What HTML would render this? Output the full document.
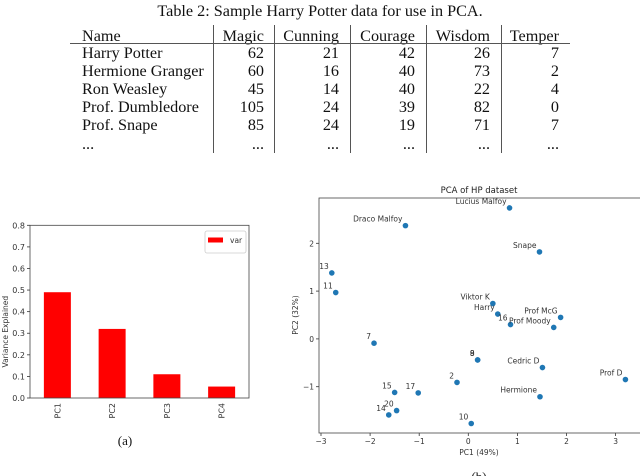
<!DOCTYPE html>
<html><head><meta charset="utf-8"><style>
body{margin:0;background:#fff;width:640px;height:476px;overflow:hidden;position:relative;font-family:"Liberation Serif",serif}
.t{position:absolute;font-size:16.2px;color:#111;line-height:18px;white-space:nowrap}
.r{text-align:right}
svg text{font-family:"DejaVu Sans","Liberation Sans",sans-serif}
</style></head><body>
<div class="t" style="left:0;width:640px;text-align:center;top:2px">Table 2: Sample Harry Potter data for use in PCA.</div>
<div id="tbl"></div>
<svg id="bar" width="640" height="476" style="position:absolute;left:0;top:0"></svg>
<script>
const rowsNames=["Name","Harry Potter","Hermione Granger","Ron Weasley","Prof. Dumbledore","Prof. Snape","..."];
const colHeads=["Magic","Cunning","Courage","Wisdom","Temper"];
const tableVals=[[62,21,42,26,7],[60,16,40,73,2],[45,14,40,22,4],[105,24,39,82,0],[85,24,19,71,7],["...","...","...","...","..."]];
const barCats=["PC1","PC2","PC3","PC4"];
const barVals=[0.49,0.32,0.11,0.053];
const barTicks=[0,0.1,0.2,0.3,0.4,0.5,0.6,0.7,0.8];
const ptLabels=["Lucius Malfoy","Draco Malfoy","Snape","13","11","Viktor K","Harry","16","Prof McG","Prof Moody","7","9","8","Cedric D","Prof D","2","15","17","Hermione","20","14","10"];
const ptX=[0.84,-1.28,1.45,-2.78,-2.70,0.50,0.60,0.86,1.88,1.74,-1.92,0.19,0.19,1.51,3.20,-0.23,-1.50,-1.02,1.46,-1.46,-1.62,0.06];
const ptY=[2.74,2.37,1.82,1.38,0.97,0.74,0.52,0.30,0.45,0.24,-0.09,-0.44,-0.44,-0.60,-0.85,-0.91,-1.12,-1.13,-1.21,-1.50,-1.59,-1.77];
const xTicks=[-3,-2,-1,0,1,2,3];
const yTicks=[-1,0,1,2];

const tbl=document.getElementById('tbl');
const colRight=[264,339,415,490,559];
const rowTop=[27,44,62,80,98,116,135];
function div(cls,style,txt){const d=document.createElement('div');d.className=cls;d.setAttribute('style',style);d.textContent=txt;tbl.appendChild(d);return d;}
rowsNames.forEach((n,i)=>{
  const d=div('t','left:82px;top:'+rowTop[i]+'px',n);
  
  
  for(let c=0;c<5;c++){
    const v=i===0?colHeads[c]:tableVals[i-1][c];
    const e=div('t r','left:'+(colRight[c]-90)+'px;width:90px;top:'+rowTop[i]+'px',v);
    
    
  }
});
const hr=div('','position:absolute;left:70px;width:500px;top:43px;height:1px;background:#555','');


[213,274,350,426,501].forEach(x=>{
  const v=div('','position:absolute;left:'+x+'px;width:1px;top:25px;height:128px;background:#555','');
  
  
});

const NS="http://www.w3.org/2000/svg";
const svg=document.getElementById('bar');
function el(tag,attrs,txt){const e=document.createElementNS(NS,tag);for(const k in attrs)e.setAttribute(k,attrs[k]);if(txt!==undefined)e.textContent=txt;svg.appendChild(e);return e;}

const bL=30,bR=249,bT=225.3,bB=398;
const by=v=>bB-(v/0.8)*(bB-bT);
const bx=i=>bL+(bR-bL)*(i+0.5)/barCats.length;
barVals.forEach((v,i)=>{
  const r=el('rect',{x:bx(i)-13.5,y:by(v),width:27,height:bB-by(v),fill:'#ff0000'});
  
  
  const t=el('text',{x:0,y:0,'font-size':8,fill:'#333','text-anchor':'end',transform:'translate('+(bx(i)+3)+','+(bB+5)+') rotate(-90)'},barCats[i]);
  
  
});
barTicks.forEach(v=>{
  el('line',{x1:bL-3,x2:bL,y1:by(v),y2:by(v),stroke:'#333','stroke-width':0.8});
  const t=el('text',{x:bL-5,y:by(v)+3,'font-size':8,fill:'#333','text-anchor':'end'},v.toFixed(1));
  
  
});
const bf=el('rect',{x:bL,y:bT,width:bR-bL,height:bB-bT,fill:'none',stroke:'#444','stroke-width':0.8});


const yl=el('text',{x:0,y:0,'font-size':7.5,fill:'#333','text-anchor':'middle',transform:'translate(8,'+((bT+bB)/2+20)+') rotate(-90)'},'Variance Explained');


const lg=el('rect',{x:205,y:231,width:41,height:22,fill:'#fff',stroke:'#ccc','stroke-width':0.8,rx:2});


el('rect',{x:208,y:237.5,width:15,height:5,fill:'#ff0000'});
const lt=el('text',{x:230,y:243,'font-size':7.5,fill:'#333'},'var');


const ca=el('text',{x:125,y:445,'font-size':13,fill:'#111','text-anchor':'middle','style':'font-family:Liberation Serif,serif'},'(a)');



const sL=319,sR=640,sT=198,sB=433;
const sx=v=>321+(v+3)*49.1;
const sy=v=>338.9-v*47.8;
xTicks.forEach(v=>{
  el('line',{x1:sx(v),x2:sx(v),y1:sB,y2:sB+3,stroke:'#333','stroke-width':0.8});
  const t=el('text',{x:sx(v),y:sB+11,'font-size':7.5,fill:'#333','text-anchor':'middle'},v<0?'\u2212'+(-v):v);
  
  
});
yTicks.forEach(v=>{
  el('line',{x1:sL-3,x2:sL,y1:sy(v),y2:sy(v),stroke:'#333','stroke-width':0.8});
  const t=el('text',{x:sL-5,y:sy(v)+3,'font-size':7.5,fill:'#333','text-anchor':'end'},v<0?'\u2212'+(-v):v);
  
  
});
const sf=el('rect',{x:sL,y:sT,width:sR-sL+2,height:sB-sT,fill:'none',stroke:'#444','stroke-width':0.8});


ptX.forEach((x,i)=>{
  const c=el('circle',{cx:sx(x),cy:sy(ptY[i]),r:2.8,fill:'#1f77b4'});
  
  
  const t=el('text',{x:sx(x)-3,y:sy(ptY[i])-4,'font-size':7.5,fill:'#333','text-anchor':'end'},ptLabels[i]);
  
  
});
const st=el('text',{x:479,y:193,'font-size':8.5,fill:'#222','text-anchor':'middle'},'PCA of HP dataset');


const xt=el('text',{x:479,y:455,'font-size':7.5,fill:'#333','text-anchor':'middle'},'PC1 (49%)');


const yt=el('text',{x:0,y:0,'font-size':7.5,fill:'#333','text-anchor':'middle',transform:'translate(298,315) rotate(-90)'},'PC2 (32%)');


const cb=el('text',{x:479,y:481,'font-size':13,fill:'#111','text-anchor':'middle','style':'font-family:Liberation Serif,serif'},'(b)');


</script>
</body></html>
